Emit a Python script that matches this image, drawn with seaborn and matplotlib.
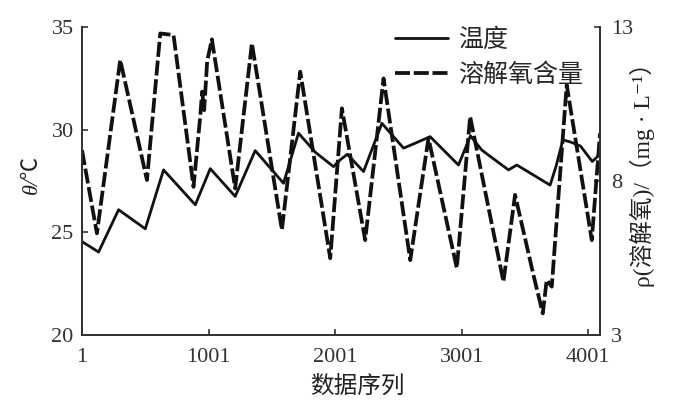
import matplotlib
matplotlib.use("Agg")
import matplotlib.pyplot as plt
import seaborn as sns
import pandas as pd

# ---- data ----
temp_x = [1, 132, 290, 501, 645, 896, 1014, 1211, 1369, 1593, 1711, 1844, 1988,
          2040, 2097, 2225, 2370, 2541, 2633, 2751, 2975, 3070, 3160, 3370, 3436,
          3699, 3745, 3800, 3860, 3939, 4032, 4093]
temp_y = [24.55, 24.04, 26.1, 25.17, 28.04, 26.34, 28.1, 26.75, 28.98, 27.39,
          29.83, 28.9, 28.2, 28.53, 28.8, 27.96, 30.31, 29.1, 29.34, 29.66, 28.28,
          29.7, 29.0, 28.04, 28.28, 27.3, 28.2, 29.5, 29.4, 29.2, 28.45, 28.8]

do_x = [1, 119, 303, 514, 619, 724, 882, 935, 950, 966, 990, 1027, 1211, 1343,
        1580, 1725, 1962, 2054, 2238, 2383, 2594, 2738, 2962, 3067, 3330, 3422,
        3570, 3641, 3672, 3712, 3830, 4028, 4093]
do_y = [9.0, 6.30, 11.93, 8.03, 12.79, 12.74, 7.81, 10.1, 10.9, 10.3, 11.9, 12.6,
        7.76, 12.47, 6.41, 11.55, 5.49, 10.36, 6.08, 11.33, 5.43, 9.39, 5.17, 10.09,
        4.73, 7.55, 4.9, 3.70, 4.79, 4.57, 11.12, 6.08, 9.55]

x_ticks = [1, 1001, 2001, 3001, 4001]
left_ticks = [20, 25, 30, 35]
right_ticks = [3, 8, 13]

temp_df = pd.DataFrame({"idx": temp_x, "temp": temp_y})
do_df = pd.DataFrame({"idx": do_x, "do": do_y})

sns.set_theme(style="ticks")
plt.rcParams["font.family"] = ["Liberation Serif", "Noto Sans CJK SC", "DejaVu Sans"]
plt.rcParams["axes.unicode_minus"] = False

fig = plt.figure(figsize=(7.0, 4.12), dpi=100)
ax = fig.add_axes([82 / 700, 1 - 335 / 412, (600 - 82) / 700, (335 - 27) / 412])
ax2 = ax.twinx()

ink = "#111111"
sns.lineplot(data=temp_df, x="idx", y="temp", ax=ax, color=ink, lw=2.0,
             label="温度", legend=False)
sns.lineplot(data=do_df, x="idx", y="do", ax=ax2, color=ink, lw=2.7,
             label="溶解氧含量", legend=False)
do_line = ax2.get_lines()[0]
do_line.set_dashes((4, 1.0))

ax.set_xlim(1, 4093)
ax.set_ylim(20, 35)
ax2.set_ylim(3, 13)
ax.set_xticks(x_ticks)
ax.set_yticks(left_ticks)
ax2.set_yticks(right_ticks)

tick_font = {"family": "Liberation Serif", "size": 16}
ax.set_xticklabels([str(v) for v in x_ticks], **tick_font)
ax.set_yticklabels([str(v) for v in left_ticks], **tick_font)
ax2.set_yticklabels([str(v) for v in right_ticks], **tick_font)

for a in (ax, ax2):
    a.tick_params(direction="in", length=4, width=1.2, colors="#333333")
    a.spines["top"].set_visible(False)
    for s in ("left", "right", "bottom"):
        a.spines[s].set_color("#333333")
        a.spines[s].set_linewidth(1.4)
    a.grid(False)
ax.tick_params(axis="x", pad=9)
ax.tick_params(axis="y", pad=6)
ax2.tick_params(axis="y", pad=8)

ax.set_xlabel("数据序列", fontsize=17, family=["Noto Sans CJK SC"], color="#222222")
ax.xaxis.set_label_coords(0.531, -0.13)
ax.set_ylabel("θ/℃", fontsize=16, family=["Liberation Serif", "Noto Sans CJK SC"],
              style="italic", color="#222222")
ax.yaxis.set_label_coords(-0.077, 0.52)
ax2.set_ylabel("ρ(溶解氧)/（mg · L⁻¹）", fontsize=17,
               family=["Liberation Serif", "Noto Sans CJK SC", "DejaVu Sans"],
               color="#222222", rotation=90)
ax2.yaxis.set_label_coords(1.058, 0.54)

handles = ax.get_lines()[:1] + ax2.get_lines()[:1]
labels = ["温度", "溶解氧含量"]
leg = ax2.legend(handles, labels, loc="upper right", frameon=False,
                 bbox_to_anchor=(1.01, 1.074), handlelength=2.1, handletextpad=0.4,
                 labelspacing=0.35, prop={"family": "Noto Sans CJK SC", "size": 18})

fig.savefig("out.png", dpi=100, facecolor="white")
